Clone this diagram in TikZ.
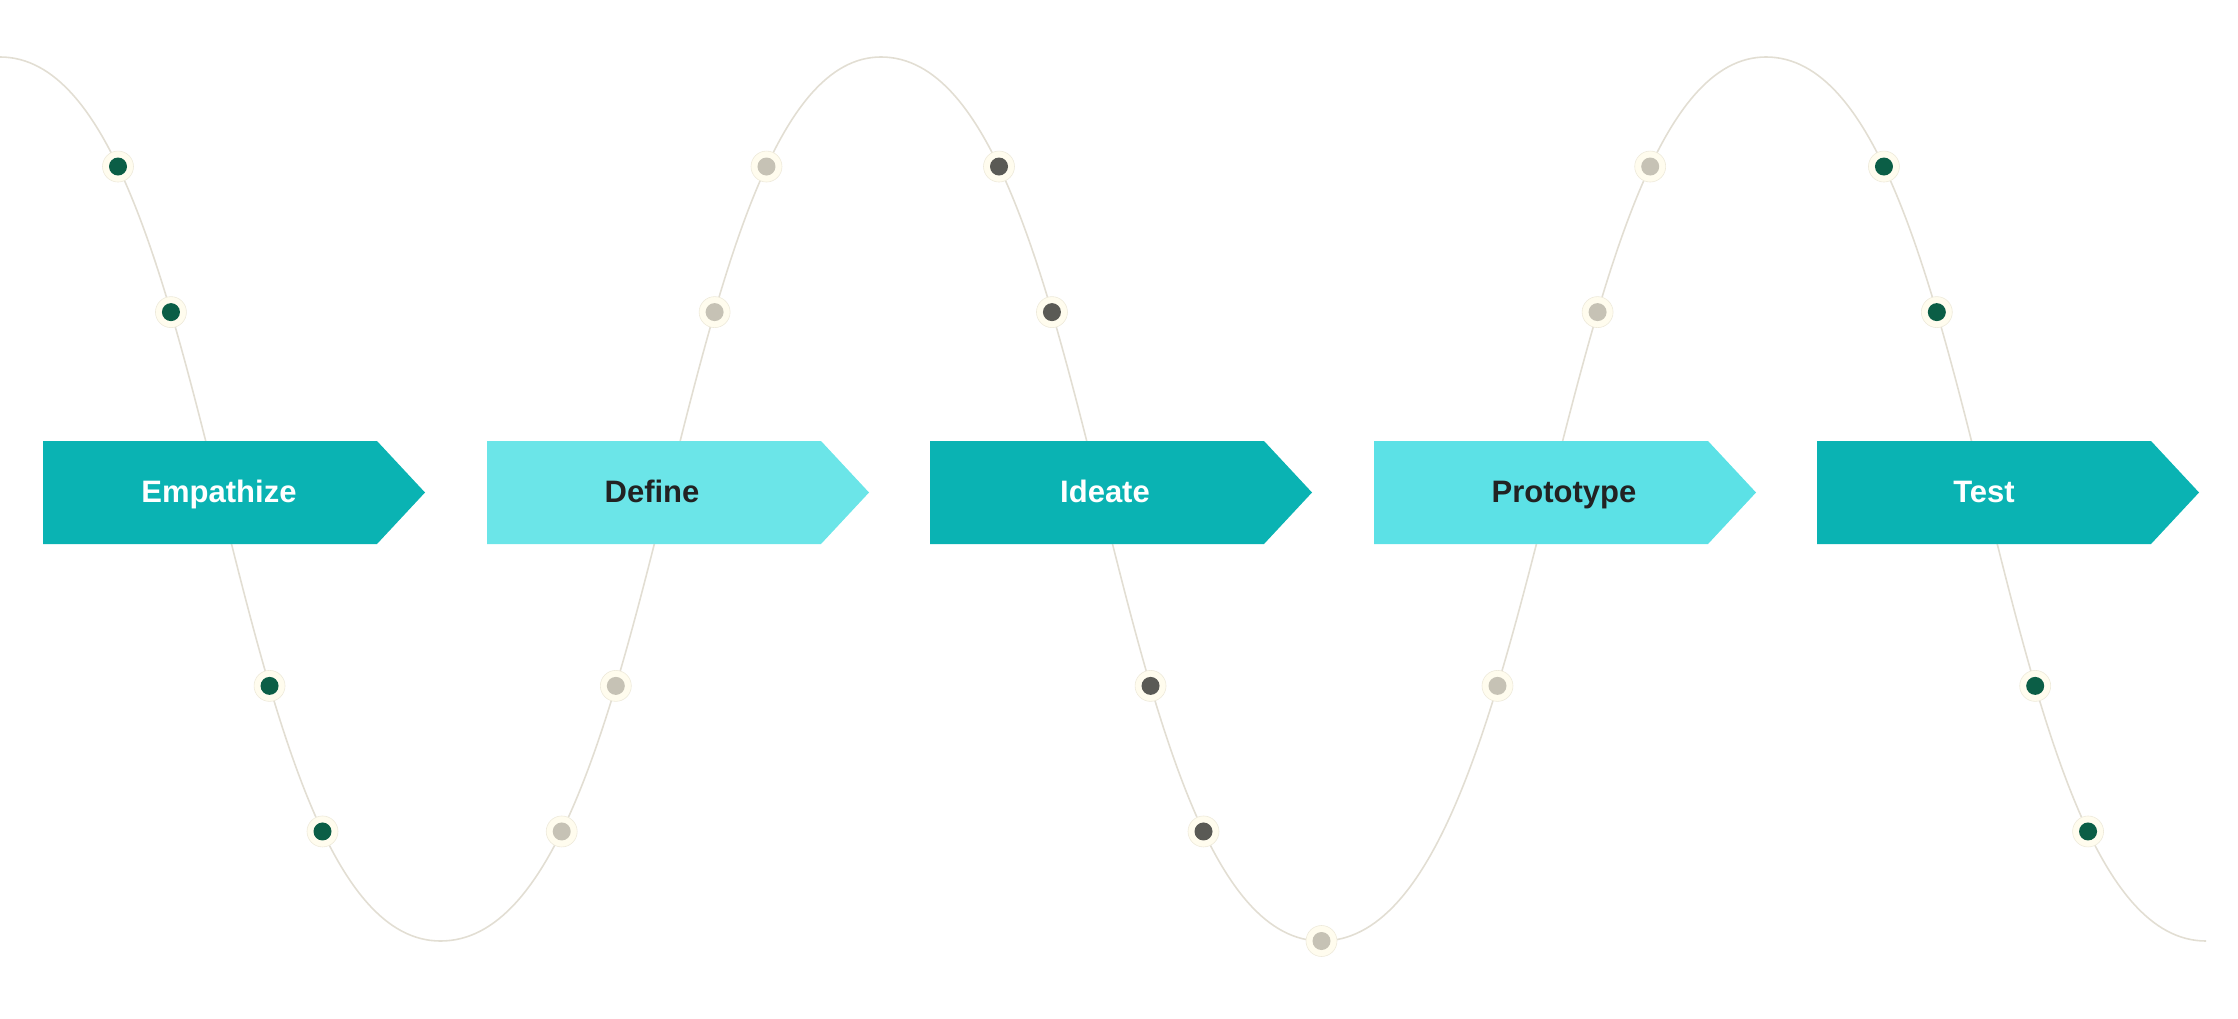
\documentclass[tikz,border=0pt]{standalone}
\usepackage{fontspec}
\setmainfont{Liberation Sans}
\usepackage{tikz}
\usepackage{xcolor}

\definecolor{stagedark}{HTML}{0AB3B3}
\definecolor{stagelight}{HTML}{6BE5E8}
\definecolor{stagemid}{HTML}{5CE1E6}
\definecolor{wave}{HTML}{E2DED3}
\definecolor{ring}{HTML}{FFFCEE}
\definecolor{ringedge}{HTML}{EEEADB}
\definecolor{dotgreen}{HTML}{0B5E46}
\definecolor{dotsand}{HTML}{C6C2B5}
\definecolor{dotgray}{HTML}{5A5A55}
\definecolor{ink}{HTML}{222222}

\begin{document}
\begin{tikzpicture}[x=1pt, y=-1pt,
  dot/.style={circle, fill=ring, draw=ringedge, line width=0.6pt, minimum size=31pt, inner sep=0pt,
    path picture={\fill[#1] (path picture bounding box.center) circle (9pt);}},
  stagetext/.style={font=\fontsize{31}{36}\selectfont\bfseries, inner sep=0pt, anchor=base}]
  \useasboundingbox (0,0) rectangle (2238,1019);

  % the wave
  \draw[wave, line width=1.6pt] (0,57)
    .. controls +(220,0) and +(-220,0) .. (440.5,941)
      node[dot=dotgreen, pos=0.22] (e1) {}
      node[dot=dotgreen, pos=0.355] (e2) {}
      node[dot=dotgreen, pos=0.645] (e3) {}
      node[dot=dotgreen, pos=0.78] (e4) {}
    .. controls +(226,0) and +(-213,0) .. (881,57)
      node[dot=dotsand, pos=0.22] (d1) {}
      node[dot=dotsand, pos=0.355] (d2) {}
      node[dot=dotsand, pos=0.645] (d3) {}
      node[dot=dotsand, pos=0.78] (d4) {}
    .. controls +(220,0) and +(-220,0) .. (1321.5,941)
      node[dot=dotgray, pos=0.22] (i1) {}
      node[dot=dotgray, pos=0.355] (i2) {}
      node[dot=dotgray, pos=0.645] (i3) {}
      node[dot=dotgray, pos=0.78] (i4) {}
      node[dot=dotsand, pos=1] (p0) {}
    .. controls +(226,0) and +(-215,0) .. (1766,57)
      node[dot=dotsand, pos=0.355] (p1) {}
      node[dot=dotsand, pos=0.645] (p2) {}
      node[dot=dotsand, pos=0.78] (p3) {}
    .. controls +(220,0) and +(-220,0) .. (2206,941)
      node[dot=dotgreen, pos=0.22] (t1) {}
      node[dot=dotgreen, pos=0.355] (t2) {}
      node[dot=dotgreen, pos=0.645] (t3) {}
      node[dot=dotgreen, pos=0.78] (t4) {};

  % the five stages
  \fill[stagedark] (43,441) -- (377,441) -- (425,492.5) -- (377,544) -- (43,544) -- cycle;
  \fill[stagelight] (487,441) -- (821,441) -- (869,492.5) -- (821,544) -- (487,544) -- cycle;
  \fill[stagedark] (930,441) -- (1264,441) -- (1312,492.5) -- (1264,544) -- (930,544) -- cycle;
  \fill[stagemid] (1374,441) -- (1708,441) -- (1756,492.5) -- (1708,544) -- (1374,544) -- cycle;
  \fill[stagedark] (1817,441) -- (2151,441) -- (2199,492.5) -- (2151,544) -- (1817,544) -- cycle;

  \node[stagetext, text=white] (empathize) at (219,502) {Empathize};
  \node[stagetext, text=ink] (define) at (652,502) {Define};
  \node[stagetext, text=white] (ideate) at (1105,502) {Ideate};
  \node[stagetext, text=ink] (prototype) at (1564,502) {Prototype};
  \node[stagetext, text=white] (test) at (1984,502) {Test};
\end{tikzpicture}
\end{document}
